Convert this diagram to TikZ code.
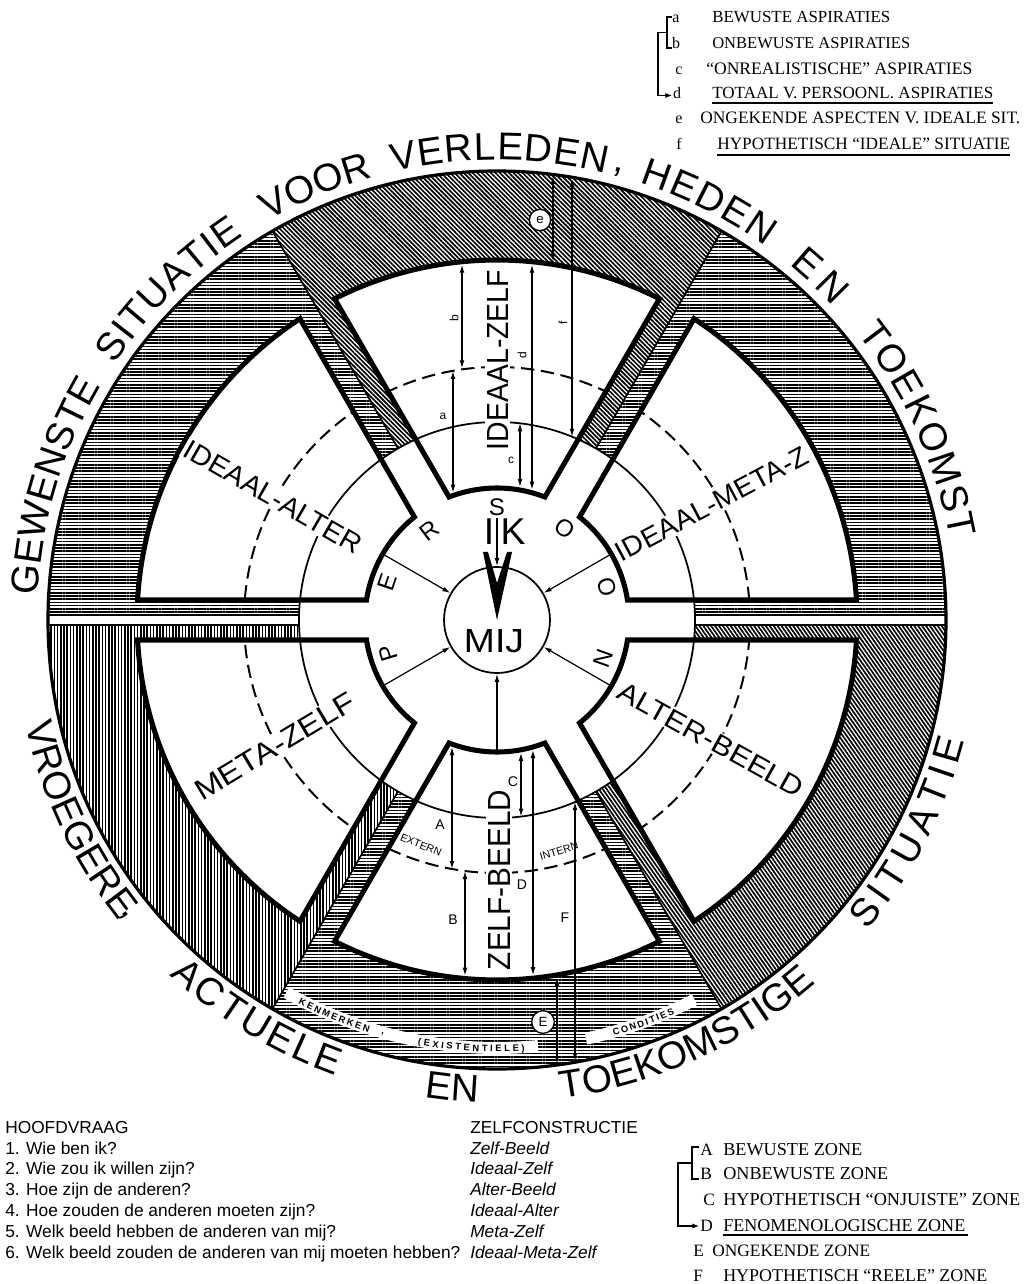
\documentclass[tikz,border=0pt]{standalone}
\usepackage{fontspec}
\setmainfont{Liberation Serif}
\setsansfont{Liberation Sans}
\newfontfamily\legfont{Liberation Serif}
\usetikzlibrary{patterns.meta,decorations.text,arrows.meta}
\newlength\pxu
\setlength\pxu{0.75pt}
\newcommand\boxpth[2]{({#1+3.184}:360) arc[start angle={#1+3.184},end angle={#2-3.184},radius=360] -- ({#2-8.715}:132) arc[start angle={#2-8.715},end angle={#1+8.715},radius=132] -- cycle}
\newcommand\outf{\sffamily\fontsize{29}{29}\selectfont}
\newcommand\bandf{\sffamily\bfseries\fontsize{7}{7}\selectfont}
\newcommand\fitbox[3]{\resizebox{#1\pxu}{#2\pxu}{\sffamily #3}}
\newcommand\fitw[2]{\resizebox{#1\pxu}{!}{\legfont\fontsize{11}{11}\selectfont #2}}
\begin{document}
\begin{tikzpicture}[x=0.75pt,y=0.75pt,
 hatchH/.style={pattern={Lines[angle=0,distance=2.4pt,line width=1.25pt]}},
 hatchD/.style={pattern={Lines[angle=-45,distance=2.4pt,line width=1.25pt]}},
 hatchV/.style={pattern={Lines[angle=90,distance=2.4pt,line width=1.25pt]}},
 hatchS/.style={pattern={Lines[angle=-55,distance=2.4pt,line width=1.25pt]}},
 thinl/.style={line width=1.3pt},
 boxl/.style={line width=3.8pt},
 dashl/.style={line width=1.5pt,dash pattern=on 10pt off 5pt},
 dbl/.style={line width=0.9pt,{Latex[length=6pt,width=3.6pt]}-{Latex[length=6pt,width=3.6pt]}},
 sgl/.style={line width=0.9pt,-{Latex[length=6pt,width=3.6pt]}},
 sml/.style={font=\sffamily\fontsize{9}{9}\selectfont,inner sep=0.5pt},
 capl/.style={font=\sffamily\fontsize{10.5}{10.5}\selectfont,inner sep=0.5pt},
 persl/.style={font=\sffamily\fontsize{18}{18}\selectfont,inner sep=0pt},
 lbl/.style={fill=white,inner sep=1.5pt},
 circl/.style={circle,draw,fill=white,line width=1pt,inner sep=0pt,minimum size=16pt,font=\sffamily\fontsize{10}{10}\selectfont},
 owt/.style={decorate,decoration={text along path,text align={fit to path},text={|\outf|#1}}},
 bwt/.style={decorate,decoration={text along path,text align={fit to path},text={|\bandf|#1}}},
 comma/.style={inner sep=0pt,font=\outf},
 legt/.style={anchor=base west,inner sep=0pt},
 legl/.style={anchor=base,inner sep=0pt,font=\legfont\fontsize{12}{12}\selectfont},
 legc/.style={anchor=base west,inner sep=0pt,font=\legfont\fontsize{13}{13}\selectfont},
 tabt/.style={anchor=base west,inner sep=0pt,font=\sffamily\fontsize{13}{13}\selectfont},
 brk/.style={line width=0.9pt}]
\fill[white] (-497,-664) rectangle (530,620);
\useasboundingbox (-497,-664) rectangle (530,620);

% ---------- hatched sectors
\fill[hatchH] (0.638:449) arc[start angle=0.638,end angle=60,radius=449] -- (60:198) arc[start angle=60,end angle=1.447,radius=198] -- cycle;
\fill[hatchD] (60:449) arc[start angle=60,end angle=120,radius=449] -- (120:198) arc[start angle=120,end angle=60,radius=198] -- cycle;
\fill[hatchH] (120:449) arc[start angle=120,end angle=179.362,radius=449] -- (178.553:198) arc[start angle=178.553,end angle=120,radius=198] -- cycle;
\fill[hatchV] (180.638:449) arc[start angle=180.638,end angle=240,radius=449] -- (240:198) arc[start angle=240,end angle=181.447,radius=198] -- cycle;
\fill[hatchH] (240:449) arc[start angle=240,end angle=300,radius=449] -- (300:198) arc[start angle=300,end angle=240,radius=198] -- cycle;
\fill[hatchS] (300:449) arc[start angle=300,end angle=359.362,radius=449] -- (358.553:198) arc[start angle=358.553,end angle=300,radius=198] -- cycle;

% white label bands in the lower ring
\draw[white,line width=9pt] (240.5:428) arc[start angle=240.5,end angle=275.5,radius=428];
\draw[white,line width=9pt] (282:428) arc[start angle=282,end angle=297.5,radius=428];

% dividers and strip edges
\foreach \a in {60,120,240,300} \draw[thinl] (\a:198) -- (\a:449);
\draw[thinl] (197.94,5) -- (448.97,5);
\draw[thinl] (197.94,-5) -- (448.97,-5);
\draw[thinl] (-197.94,5) -- (-448.97,5);
\draw[thinl] (-197.94,-5) -- (-448.97,-5);

% ---------- boxes
\fill[white] \boxpth{0}{60} \boxpth{60}{120} \boxpth{120}{180} \boxpth{180}{240} \boxpth{240}{300} \boxpth{300}{360};
\begin{scope}
\clip \boxpth{0}{60} \boxpth{60}{120} \boxpth{120}{180} \boxpth{180}{240} \boxpth{240}{300} \boxpth{300}{360};
\draw[dashl] (0,0) circle[radius=253];
\end{scope}
\draw[thinl] (0,0) circle[radius=198];
\draw[boxl] \boxpth{0}{60} \boxpth{60}{120} \boxpth{120}{180} \boxpth{180}{240} \boxpth{240}{300} \boxpth{300}{360};
\draw[line width=2.4pt] (0,0) circle[radius=449];

% ---------- centre
\node[circle,draw,line width=1.3pt,fill=white,minimum size=79.5pt,inner sep=0pt] (mij) at (0,0) {};
\foreach \a in {30,150,210,330,270} \draw[sgl] (\a:131) -- (mij.\a);
\draw[sgl] (0,102) -- (mij.90);
\fill (-14,68) -- (0,0) -- (15,68) -- (10,68) -- (0,37) -- (-9,68) -- cycle;
\node[inner sep=0pt] (mijt) at (-3,-21) {\fitbox{60}{23}{MIJ}};
\node[inner sep=0pt,font=\sffamily\fontsize{28}{28}\selectfont] (ikI) at (-8,88.5) {I};
\node[inner sep=0pt,font=\sffamily\fontsize{28}{28}\selectfont] (ikK) at (16,88.5) {K};
\node[persl,rotate=107] (pP) at (197:114) {P};
\node[persl,rotate=71] (pE) at (161:116) {E};
\node[persl,rotate=37] (pR) at (127:112) {R};
\node[persl] (pS) at (90:113) {S};
\node[persl,rotate=-36.5] (pO1) at (53.5:114) {O};
\node[persl,rotate=-73.3] (pO2) at (16.7:115) {O};
\node[persl,rotate=-109.7] (pN) at (-19.7:113) {N};

% ---------- top box measures
\draw[dbl] (-35,355.3) -- (-35,251.6);
\draw[dbl] (-44,249.1) -- (-44,127.4);
\draw[dbl] (23,196.7) -- (23,133);
\draw[dbl] (35,355.3) -- (35,130.3);
\draw[dbl] (75,441.2) -- (75,183.2);
\draw[dbl] (56,444) -- (56,358.6);
\node[sml,rotate=90] (lb) at (-43,302) {b};
\node[sml] (la) at (-54,204) {a};
\node[sml] (lc) at (14,160) {c};
\node[sml,rotate=90] (ld) at (25,265) {d};
\node[sml,rotate=90] (lf) at (66,297) {f};
\node[circl] (ce) at (43,400) {e};

% ---------- bottom box measures
\draw[dbl] (-45,-127) -- (-45,-249);
\draw[dbl] (-32,-251) -- (-32,-355.6);
\draw[dbl] (24,-132.8) -- (24,-196.5);
\draw[dbl] (36,-130) -- (36,-355.2);
\draw[dbl] (78,-182) -- (78,-441);
\draw[dbl] (60,-358) -- (60,-444);
\node[capl] (lA) at (-57,-205) {A};
\node[capl] (lB) at (-44,-300) {B};
\node[capl] (lC) at (16,-162) {C};
\node[capl] (lD) at (25,-265) {D};
\node[capl] (lF) at (68,-298) {F};
\node[circl,minimum size=17pt] (cE) at (46,-402) {E};
\node[font=\sffamily\fontsize{8}{8}\selectfont,inner sep=0pt,rotate=-22] (ext) at (-76,-225) {EXTERN};
\node[font=\sffamily\fontsize{8}{8}\selectfont,inner sep=0pt,rotate=17] (int) at (62,-231) {INTERN};

% ---------- box labels
\node[lbl,rotate=90] (tIZ) at (0.5,260) {\fitbox{180}{21}{IDEAAL-ZELF}};
\node[lbl,rotate=90] (tZB) at (2,-260) {\fitbox{180}{22}{ZELF-BEELD}};
\node[lbl,rotate=-30] (tIA) at (-224,123) {\fitbox{200}{19}{IDEAAL-ALTER}};
\node[lbl,rotate=28] (tIM) at (215,116) {\fitbox{214}{19}{IDEAAL-META-Z}};
\node[lbl,rotate=-29] (tAB) at (214,-120) {\fitbox{208}{19}{ALTER-BEELD}};
\node[lbl,rotate=31] (tMZ) at (-222,-126) {\fitbox{182}{20}{META-ZELF}};

% ---------- ring texts
\path[bwt={KENMERKEN}] (242.6:432) arc[start angle=242.6,end angle=252.7,radius=432];
\node[font=\bandf,inner sep=0pt,rotate=344.5] (kcom) at (254.5:429) {,};
\path[bwt={(EXISTENTIELE)}] (259.4:432) arc[start angle=259.4,end angle=273.7,radius=432];
\path[bwt={CONDITIES}] (285.7:432) arc[start angle=285.7,end angle=294.3,radius=432];

\path[owt={GEWENSTE}] (177:460) arc[start angle=177,end angle=150.3,radius=460];
\path[owt={SITUATIE}] (146.3:460) arc[start angle=146.3,end angle=123.4,radius=460];
\path[owt={VOOR}] (119.8:460) arc[start angle=119.8,end angle=106.4,radius=460];
\path[owt={VERLEDEN}] (103:460) arc[start angle=103,end angle=76.3,radius=460];
\node[comma,rotate=-15] (c1) at (75:464) {,};
\path[owt={HEDEN}] (72:460) arc[start angle=72,end angle=54.3,radius=460];
\path[owt={EN}] (50.5:460) arc[start angle=50.5,end angle=43,radius=460];
\path[owt={TOEKOMST}] (38.5:460) arc[start angle=38.5,end angle=10.2,radius=460];

\path[owt={VROEGERE}] (192.5:483) arc[start angle=192.5,end angle=217,radius=483];
\node[comma,rotate=308.5] (c2) at (218.4:476) {,};
\path[owt={ACTUELE}] (227.3:483) arc[start angle=227.3,end angle=250.5,radius=483];
\path[owt={EN}] (261.4:483) arc[start angle=261.4,end angle=267.1,radius=483];
\path[owt={TOEKOMSTIGE}] (277.7:483) arc[start angle=277.7,end angle=311,radius=483];
\path[owt={SITUATIE}] (320:483) arc[start angle=320,end angle=345.5,radius=483];

% ---------- top right legend
\node[legl] (ka) at (179,597) {a};
\node[legl] (kb) at (179,571) {b};
\node[legl] (kc) at (182,545) {c};
\node[legl] (kd) at (180,521) {d};
\node[legl] (ke) at (182,496) {e};
\node[legl] (kf) at (182,470) {f};
\node[legt] (ta) at (215,597) {\fitw{178}{BEWUSTE ASPIRATIES}};
\node[legt] (tb) at (215,571) {\fitw{198}{ONBEWUSTE ASPIRATIES}};
\node[legt] (tc) at (209,545) {\fitw{266}{“ONREALISTISCHE” ASPIRATIES}};
\node[legt] (td) at (215,521) {\fitw{281}{TOTAAL V. PERSOONL. ASPIRATIES}};
\node[legt] (te) at (203,496) {\fitw{320}{ONGEKENDE ASPECTEN V. IDEALE SIT.}};
\node[legt] (tf) at (220,470) {\fitw{293}{HYPOTHETISCH “IDEALE” SITUATIE}};
\draw[brk] (215,517) -- (496,517);
\draw[brk] (220,465) -- (513,465);
\draw[brk] (175,603) -- (170,603) -- (170,572) -- (175,572);
\draw[brk,-{Latex[length=5pt,width=4pt]}] (170,587.5) -- (161,587.5) -- (161,524.5) -- (175,524.5);

% ---------- bottom right legend
\node[legc] (kA) at (203,-535.5) {A};
\node[legc] (kB) at (203,-559.5) {B};
\node[legc] (kC) at (206,-585.5) {C};
\node[legc] (kD) at (203,-611.5) {D};
\node[legc] (kE) at (196,-636.5) {E};
\node[legc] (kF) at (196,-661.5) {F};
\node[legt] (tA) at (226,-535.5) {\fitw{139}{BEWUSTE ZONE}};
\node[legt] (tB) at (226,-559.5) {\fitw{165}{ONBEWUSTE ZONE}};
\node[legt] (tC) at (226,-585.5) {\fitw{297}{HYPOTHETISCH “ONJUISTE” ZONE}};
\node[legt] (tD) at (226,-611.5) {\fitw{242}{FENOMENOLOGISCHE ZONE}};
\node[legt] (tE) at (215,-636.5) {\fitw{158}{ONGEKENDE ZONE}};
\node[legt] (tF) at (226,-661.5) {\fitw{264}{HYPOTHETISCH “REELE” ZONE}};
\draw[brk] (226,-615) -- (471,-615);
\draw[brk] (202,-527) -- (195,-527) -- (195,-559) -- (202,-559);
\draw[brk,-{Latex[length=5pt,width=4pt]}] (195,-543) -- (181,-543) -- (181,-606) -- (202,-606);

% ---------- bottom left table
\node[tabt] (h1) at (-492,-513) {HOOFDVRAAG};
\node[tabt] (q1) at (-492,-534) {1. Wie ben ik?};
\node[tabt] (q2) at (-492,-554) {2. Wie zou ik willen zijn?};
\node[tabt] (q3) at (-492,-575) {3. Hoe zijn de anderen?};
\node[tabt] (q4) at (-492,-596) {4. Hoe zouden de anderen moeten zijn?};
\node[tabt] (q5) at (-492,-617) {5. Welk beeld hebben de anderen van mij?};
\node[tabt] (q6) at (-492,-638) {6. Welk beeld zouden de anderen van mij moeten hebben?};
\node[tabt] (h2) at (-27,-513) {ZELFCONSTRUCTIE};
\node[tabt] (z1) at (-27,-534) {\itshape Zelf-Beeld};
\node[tabt] (z2) at (-27,-554) {\itshape Ideaal-Zelf};
\node[tabt] (z3) at (-27,-575) {\itshape Alter-Beeld};
\node[tabt] (z4) at (-27,-596) {\itshape Ideaal-Alter};
\node[tabt] (z5) at (-27,-617) {\itshape Meta-Zelf};
\node[tabt] (z6) at (-27,-638) {\itshape Ideaal-Meta-Zelf};
\end{tikzpicture}
\end{document}
